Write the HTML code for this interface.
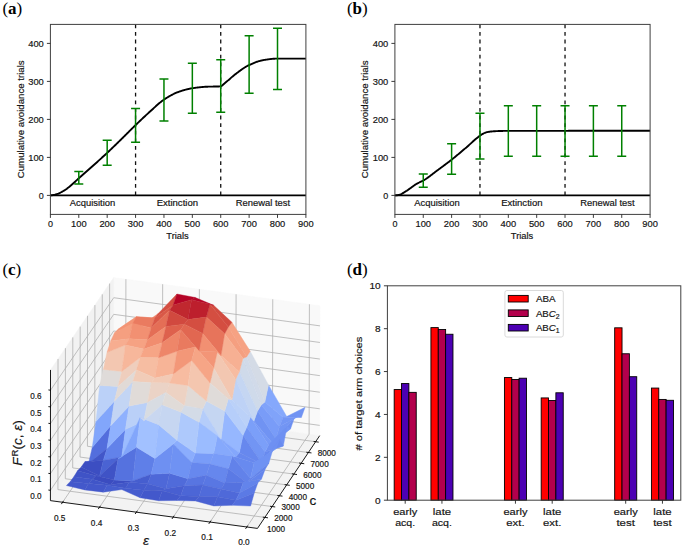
<!DOCTYPE html>
<html><head><meta charset="utf-8"><style>html,body{margin:0;padding:0;background:#fff;}svg{display:block;} text{stroke:#1a1a1a;stroke-width:0.18px;}</style></head>
<body><svg width="685" height="549" viewBox="0 0 685 549" font-family="'Liberation Sans', sans-serif">
<rect width="685" height="549" fill="#fff"/>
<polygon points="319.71,435.65 113.62,407.76 113.77,277.52 320.02,305.73" fill="#f9f9f9" stroke="#f9f9f9" stroke-width="0.5"/>
<polygon points="50.42,500.63 113.62,407.76 113.77,277.52 50.51,369.95" fill="#f2f2f2" stroke="#f2f2f2" stroke-width="0.5"/>
<polygon points="257.47,528.42 50.42,500.63 113.62,407.76 319.71,435.65" fill="#f3f3f3" stroke="#f3f3f3" stroke-width="0.5"/>
<polyline points="246.81,526.99 309.10,434.21 309.40,304.28" stroke="#b0b0b0" stroke-width="0.8" fill="none"/>
<polyline points="210.02,522.05 272.49,429.26 272.76,299.27" stroke="#b0b0b0" stroke-width="0.8" fill="none"/>
<polyline points="173.21,517.11 235.85,424.30 236.09,294.25" stroke="#b0b0b0" stroke-width="0.8" fill="none"/>
<polyline points="136.37,512.17 199.18,419.34 199.39,289.23" stroke="#b0b0b0" stroke-width="0.8" fill="none"/>
<polyline points="99.50,507.22 162.48,414.37 162.66,284.21" stroke="#b0b0b0" stroke-width="0.8" fill="none"/>
<polyline points="62.60,502.26 125.75,409.40 125.90,279.18" stroke="#b0b0b0" stroke-width="0.8" fill="none"/>
<polyline points="264.86,517.40 57.93,489.60 58.03,358.97" stroke="#b0b0b0" stroke-width="0.8" fill="none"/>
<polyline points="272.14,506.56 65.32,478.74 65.42,348.17" stroke="#b0b0b0" stroke-width="0.8" fill="none"/>
<polyline points="279.40,495.73 72.69,467.90 72.80,337.38" stroke="#b0b0b0" stroke-width="0.8" fill="none"/>
<polyline points="286.66,484.91 80.07,457.07 80.18,326.60" stroke="#b0b0b0" stroke-width="0.8" fill="none"/>
<polyline points="293.91,474.10 87.43,446.25 87.55,315.83" stroke="#b0b0b0" stroke-width="0.8" fill="none"/>
<polyline points="301.16,463.30 94.79,435.44 94.92,305.07" stroke="#b0b0b0" stroke-width="0.8" fill="none"/>
<polyline points="308.40,452.51 102.14,424.64 102.27,294.32" stroke="#b0b0b0" stroke-width="0.8" fill="none"/>
<polyline points="315.63,441.73 109.48,413.84 109.62,283.57" stroke="#b0b0b0" stroke-width="0.8" fill="none"/>
<polyline points="319.74,425.38 113.64,397.47 50.43,490.30" stroke="#b0b0b0" stroke-width="0.8" fill="none"/>
<polyline points="319.78,408.81 113.65,380.85 50.44,473.63" stroke="#b0b0b0" stroke-width="0.8" fill="none"/>
<polyline points="319.82,392.23 113.67,364.23 50.45,456.95" stroke="#b0b0b0" stroke-width="0.8" fill="none"/>
<polyline points="319.85,375.64 113.69,347.60 50.46,440.27" stroke="#b0b0b0" stroke-width="0.8" fill="none"/>
<polyline points="319.89,359.06 113.71,330.98 50.47,423.59" stroke="#b0b0b0" stroke-width="0.8" fill="none"/>
<polyline points="319.93,342.47 113.73,314.35 50.49,406.90" stroke="#b0b0b0" stroke-width="0.8" fill="none"/>
<polyline points="319.97,325.87 113.74,297.71 50.50,390.21" stroke="#b0b0b0" stroke-width="0.8" fill="none"/>
<polygon points="301.47,417.27 283.15,417.15 286.76,416.51 305.10,407.31" fill="#7093f3" stroke="#7093f3" stroke-width="0.4" stroke-linejoin="round"/>
<polygon points="283.15,417.15 264.85,402.00 268.50,384.93 286.76,416.51" fill="#85a8fc" stroke="#85a8fc" stroke-width="0.4" stroke-linejoin="round"/>
<polygon points="279.51,426.53 261.22,404.88 264.85,402.00 283.15,417.15" fill="#80a3fa" stroke="#80a3fa" stroke-width="0.4" stroke-linejoin="round"/>
<polygon points="297.86,416.55 279.51,426.53 283.15,417.15 301.47,417.27" fill="#7396f5" stroke="#7396f5" stroke-width="0.4" stroke-linejoin="round"/>
<polygon points="275.87,439.03 257.59,411.11 261.22,404.88 279.51,426.53" fill="#799cf8" stroke="#799cf8" stroke-width="0.4" stroke-linejoin="round"/>
<polygon points="294.24,418.14 275.87,439.03 279.51,426.53 297.86,416.55" fill="#7295f4" stroke="#7295f4" stroke-width="0.4" stroke-linejoin="round"/>
<polygon points="272.24,443.03 253.94,421.06 257.59,411.11 275.87,439.03" fill="#7093f3" stroke="#7093f3" stroke-width="0.4" stroke-linejoin="round"/>
<polygon points="136.45,316.70 118.05,329.29 121.71,330.15 140.10,326.61" fill="#f7a688" stroke="#f7a688" stroke-width="0.4" stroke-linejoin="round"/>
<polygon points="106.98,448.59 88.54,463.31 92.23,447.50 110.67,425.86" fill="#536edd" stroke="#536edd" stroke-width="0.4" stroke-linejoin="round"/>
<polygon points="264.85,402.00 246.60,356.96 250.23,351.25 268.50,384.93" fill="#d4dbe6" stroke="#d4dbe6" stroke-width="0.4" stroke-linejoin="round"/>
<polygon points="290.61,428.80 272.24,443.03 275.87,439.03 294.24,418.14" fill="#6c8ff1" stroke="#6c8ff1" stroke-width="0.4" stroke-linejoin="round"/>
<polygon points="103.29,460.38 84.86,461.74 88.54,463.31 106.98,448.59" fill="#4257c9" stroke="#4257c9" stroke-width="0.4" stroke-linejoin="round"/>
<polygon points="110.67,425.86 92.23,447.50 95.93,421.51 114.37,401.18" fill="#82a6fb" stroke="#82a6fb" stroke-width="0.4" stroke-linejoin="round"/>
<polygon points="261.22,404.88 242.97,358.32 246.60,356.96 264.85,402.00" fill="#d1dae9" stroke="#d1dae9" stroke-width="0.4" stroke-linejoin="round"/>
<polygon points="268.62,445.06 250.33,417.02 253.94,421.06 272.24,443.03" fill="#779af7" stroke="#779af7" stroke-width="0.4" stroke-linejoin="round"/>
<polygon points="99.60,476.09 81.18,467.03 84.86,461.74 103.29,460.38" fill="#3c4ec2" stroke="#3c4ec2" stroke-width="0.4" stroke-linejoin="round"/>
<polygon points="287.00,426.46 268.62,445.06 272.24,443.03 290.61,428.80" fill="#7295f4" stroke="#7295f4" stroke-width="0.4" stroke-linejoin="round"/>
<polygon points="154.84,318.09 136.45,316.70 140.10,326.61 158.50,313.26" fill="#ee8468" stroke="#ee8468" stroke-width="0.4" stroke-linejoin="round"/>
<polygon points="132.78,323.46 114.38,333.04 118.05,329.29 136.45,316.70" fill="#f39475" stroke="#f39475" stroke-width="0.4" stroke-linejoin="round"/>
<polygon points="114.37,401.18 95.93,421.51 99.64,385.40 118.05,386.49" fill="#bbd1f8" stroke="#bbd1f8" stroke-width="0.4" stroke-linejoin="round"/>
<polygon points="257.59,411.11 239.31,371.83 242.97,358.32 261.22,404.88" fill="#cfdaea" stroke="#cfdaea" stroke-width="0.4" stroke-linejoin="round"/>
<polygon points="95.92,475.79 77.49,470.87 81.18,467.03 99.60,476.09" fill="#3b4cc0" stroke="#3b4cc0" stroke-width="0.4" stroke-linejoin="round"/>
<polygon points="121.71,456.96 103.29,460.38 106.98,448.59 125.41,429.47" fill="#6282ea" stroke="#6282ea" stroke-width="0.4" stroke-linejoin="round"/>
<polygon points="118.04,458.65 99.60,476.09 103.29,460.38 121.71,456.96" fill="#4a63d3" stroke="#4a63d3" stroke-width="0.4" stroke-linejoin="round"/>
<polygon points="129.10,338.84 110.70,341.04 114.38,333.04 132.78,323.46" fill="#f59f80" stroke="#f59f80" stroke-width="0.4" stroke-linejoin="round"/>
<polygon points="283.34,446.06 264.98,452.07 268.62,445.06 287.00,426.46" fill="#6e90f2" stroke="#6e90f2" stroke-width="0.4" stroke-linejoin="round"/>
<polygon points="264.98,452.07 246.68,427.34 250.33,417.02 268.62,445.06" fill="#7b9ff9" stroke="#7b9ff9" stroke-width="0.4" stroke-linejoin="round"/>
<polygon points="118.05,386.49 99.64,385.40 103.33,369.46 121.74,371.49" fill="#dfdbd9" stroke="#dfdbd9" stroke-width="0.4" stroke-linejoin="round"/>
<polygon points="253.94,421.06 235.67,379.42 239.31,371.83 257.59,411.11" fill="#c5d6f2" stroke="#c5d6f2" stroke-width="0.4" stroke-linejoin="round"/>
<polygon points="151.17,327.93 132.78,323.46 136.45,316.70 154.84,318.09" fill="#ea7b60" stroke="#ea7b60" stroke-width="0.4" stroke-linejoin="round"/>
<polygon points="125.41,429.47 106.98,448.59 110.67,425.86 129.11,406.04" fill="#8fb1fe" stroke="#8fb1fe" stroke-width="0.4" stroke-linejoin="round"/>
<polygon points="121.74,371.49 103.33,369.46 107.02,352.35 125.43,345.04" fill="#f3c7b1" stroke="#f3c7b1" stroke-width="0.4" stroke-linejoin="round"/>
<polygon points="125.43,345.04 107.02,352.35 110.70,341.04 129.10,338.84" fill="#f7ad90" stroke="#f7ad90" stroke-width="0.4" stroke-linejoin="round"/>
<polygon points="114.35,480.12 95.92,475.79 99.60,476.09 118.04,458.65" fill="#3f53c6" stroke="#3f53c6" stroke-width="0.4" stroke-linejoin="round"/>
<polygon points="246.60,356.96 228.30,327.00 231.94,322.37 250.23,351.25" fill="#f6a283" stroke="#f6a283" stroke-width="0.4" stroke-linejoin="round"/>
<polygon points="261.34,462.61 243.03,435.31 246.68,427.34 264.98,452.07" fill="#7295f4" stroke="#7295f4" stroke-width="0.4" stroke-linejoin="round"/>
<polygon points="279.74,439.40 261.34,462.61 264.98,452.07 283.34,446.06" fill="#688aef" stroke="#688aef" stroke-width="0.4" stroke-linejoin="round"/>
<polygon points="147.50,339.81 129.10,338.84 132.78,323.46 151.17,327.93" fill="#f29072" stroke="#f29072" stroke-width="0.4" stroke-linejoin="round"/>
<polygon points="250.33,417.02 232.00,399.63 235.67,379.42 253.94,421.06" fill="#bed2f6" stroke="#bed2f6" stroke-width="0.4" stroke-linejoin="round"/>
<polygon points="173.24,304.92 154.84,318.09 158.50,313.26 176.90,294.03" fill="#d44e41" stroke="#d44e41" stroke-width="0.4" stroke-linejoin="round"/>
<polygon points="92.24,479.13 73.80,476.86 77.49,470.87 95.92,475.79" fill="#3f53c6" stroke="#3f53c6" stroke-width="0.4" stroke-linejoin="round"/>
<polygon points="257.71,462.20 239.37,452.72 243.03,435.31 261.34,462.61" fill="#6788ee" stroke="#6788ee" stroke-width="0.4" stroke-linejoin="round"/>
<polygon points="110.67,484.72 92.24,479.13 95.92,475.79 114.35,480.12" fill="#3b4cc0" stroke="#3b4cc0" stroke-width="0.4" stroke-linejoin="round"/>
<polygon points="143.83,349.11 125.43,345.04 129.10,338.84 147.50,339.81" fill="#f6a283" stroke="#f6a283" stroke-width="0.4" stroke-linejoin="round"/>
<polygon points="129.11,406.04 110.67,425.86 114.37,401.18 132.80,381.48" fill="#c3d5f4" stroke="#c3d5f4" stroke-width="0.4" stroke-linejoin="round"/>
<polygon points="136.48,369.93 118.05,386.49 121.74,371.49 140.16,357.56" fill="#efcebd" stroke="#efcebd" stroke-width="0.4" stroke-linejoin="round"/>
<polygon points="140.16,357.56 121.74,371.49 125.43,345.04 143.83,349.11" fill="#f7b79b" stroke="#f7b79b" stroke-width="0.4" stroke-linejoin="round"/>
<polygon points="242.97,358.32 224.66,333.75 228.30,327.00 246.60,356.96" fill="#f59f80" stroke="#f59f80" stroke-width="0.4" stroke-linejoin="round"/>
<polygon points="132.80,381.48 114.37,401.18 118.05,386.49 136.48,369.93" fill="#e1dad6" stroke="#e1dad6" stroke-width="0.4" stroke-linejoin="round"/>
<polygon points="169.58,310.28 151.17,327.93 154.84,318.09 173.24,304.92" fill="#d95847" stroke="#d95847" stroke-width="0.4" stroke-linejoin="round"/>
<polygon points="129.10,482.18 110.67,484.72 114.35,480.12 132.77,480.92" fill="#3c4ec2" stroke="#3c4ec2" stroke-width="0.4" stroke-linejoin="round"/>
<polygon points="246.68,427.34 228.37,398.93 232.00,399.63 250.33,417.02" fill="#bbd1f8" stroke="#bbd1f8" stroke-width="0.4" stroke-linejoin="round"/>
<polygon points="132.77,480.92 114.35,480.12 118.04,458.65 136.48,447.19" fill="#5572df" stroke="#5572df" stroke-width="0.4" stroke-linejoin="round"/>
<polygon points="276.10,448.53 257.71,462.20 261.34,462.61 279.74,439.40" fill="#6e90f2" stroke="#6e90f2" stroke-width="0.4" stroke-linejoin="round"/>
<polygon points="88.56,483.57 70.11,481.66 73.80,476.86 92.24,479.13" fill="#4257c9" stroke="#4257c9" stroke-width="0.4" stroke-linejoin="round"/>
<polygon points="239.31,371.83 220.99,355.55 224.66,333.75 242.97,358.32" fill="#f7b093" stroke="#f7b093" stroke-width="0.4" stroke-linejoin="round"/>
<polygon points="165.91,326.52 147.50,339.81 151.17,327.93 169.58,310.28" fill="#e46e56" stroke="#e46e56" stroke-width="0.4" stroke-linejoin="round"/>
<polygon points="254.09,462.65 235.73,456.91 239.37,452.72 257.71,462.20" fill="#6788ee" stroke="#6788ee" stroke-width="0.4" stroke-linejoin="round"/>
<polygon points="140.18,417.47 121.71,456.96 125.41,429.47 143.84,420.81" fill="#9bbcff" stroke="#9bbcff" stroke-width="0.4" stroke-linejoin="round"/>
<polygon points="162.23,342.74 143.83,349.11 147.50,339.81 165.91,326.52" fill="#f18d6f" stroke="#f18d6f" stroke-width="0.4" stroke-linejoin="round"/>
<polygon points="228.30,327.00 209.98,304.35 213.62,305.28 231.94,322.37" fill="#d24b40" stroke="#d24b40" stroke-width="0.4" stroke-linejoin="round"/>
<polygon points="143.84,420.81 125.41,429.47 129.11,406.04 147.52,402.46" fill="#bad0f8" stroke="#bad0f8" stroke-width="0.4" stroke-linejoin="round"/>
<polygon points="136.48,447.19 118.04,458.65 121.71,456.96 140.18,417.47" fill="#82a6fb" stroke="#82a6fb" stroke-width="0.4" stroke-linejoin="round"/>
<polygon points="239.37,452.72 221.03,439.16 224.71,410.89 243.03,435.31" fill="#96b7ff" stroke="#96b7ff" stroke-width="0.4" stroke-linejoin="round"/>
<polygon points="107.00,485.21 88.56,483.57 92.24,479.13 110.67,484.72" fill="#4055c8" stroke="#4055c8" stroke-width="0.4" stroke-linejoin="round"/>
<polygon points="191.62,299.65 173.24,304.92 176.90,294.03 195.27,297.51" fill="#b40426" stroke="#b40426" stroke-width="0.4" stroke-linejoin="round"/>
<polygon points="243.03,435.31 224.71,410.89 228.37,398.93 246.68,427.34" fill="#b6cefa" stroke="#b6cefa" stroke-width="0.4" stroke-linejoin="round"/>
<polygon points="151.20,474.27 132.77,480.92 136.48,447.19 154.88,458.43" fill="#5f7fe8" stroke="#5f7fe8" stroke-width="0.4" stroke-linejoin="round"/>
<polygon points="158.56,357.74 140.16,357.56 143.83,349.11 162.23,342.74" fill="#f6a586" stroke="#f6a586" stroke-width="0.4" stroke-linejoin="round"/>
<polygon points="147.52,483.77 129.10,482.18 132.77,480.92 151.20,474.27" fill="#465ecf" stroke="#465ecf" stroke-width="0.4" stroke-linejoin="round"/>
<polygon points="235.67,379.42 217.36,351.91 220.99,355.55 239.31,371.83" fill="#f7bca1" stroke="#f7bca1" stroke-width="0.4" stroke-linejoin="round"/>
<polygon points="154.87,378.06 136.48,369.93 140.16,357.56 158.56,357.74" fill="#f6bda2" stroke="#f6bda2" stroke-width="0.4" stroke-linejoin="round"/>
<polygon points="235.73,456.91 217.39,435.76 221.03,439.16 239.37,452.72" fill="#84a7fc" stroke="#84a7fc" stroke-width="0.4" stroke-linejoin="round"/>
<polygon points="209.98,304.35 191.62,299.65 195.27,297.51 213.62,305.28" fill="#b40426" stroke="#b40426" stroke-width="0.4" stroke-linejoin="round"/>
<polygon points="125.43,488.22 107.00,485.21 110.67,484.72 129.10,482.18" fill="#4257c9" stroke="#4257c9" stroke-width="0.4" stroke-linejoin="round"/>
<polygon points="151.21,382.76 132.80,381.48 136.48,369.93 154.87,378.06" fill="#f1ccb8" stroke="#f1ccb8" stroke-width="0.4" stroke-linejoin="round"/>
<polygon points="147.52,402.46 129.11,406.04 132.80,381.48 151.21,382.76" fill="#e0dbd8" stroke="#e0dbd8" stroke-width="0.4" stroke-linejoin="round"/>
<polygon points="84.87,489.91 66.42,485.56 70.11,481.66 88.56,483.57" fill="#4358cb" stroke="#4358cb" stroke-width="0.4" stroke-linejoin="round"/>
<polygon points="187.95,319.60 169.58,310.28 173.24,304.92 191.62,299.65" fill="#c0282f" stroke="#c0282f" stroke-width="0.4" stroke-linejoin="round"/>
<polygon points="232.00,399.63 213.69,368.08 217.36,351.91 235.67,379.42" fill="#f3c7b1" stroke="#f3c7b1" stroke-width="0.4" stroke-linejoin="round"/>
<polygon points="272.47,451.02 254.09,462.65 257.71,462.20 276.10,448.53" fill="#7699f6" stroke="#7699f6" stroke-width="0.4" stroke-linejoin="round"/>
<polygon points="250.43,478.61 232.10,456.29 235.73,456.91 254.09,462.65" fill="#688aef" stroke="#688aef" stroke-width="0.4" stroke-linejoin="round"/>
<polygon points="224.66,333.75 206.32,317.12 209.98,304.35 228.30,327.00" fill="#d44e41" stroke="#d44e41" stroke-width="0.4" stroke-linejoin="round"/>
<polygon points="165.93,488.73 147.52,483.77 151.20,474.27 169.61,473.16" fill="#4e68d8" stroke="#4e68d8" stroke-width="0.4" stroke-linejoin="round"/>
<polygon points="220.99,355.55 202.66,333.43 206.32,317.12 224.66,333.75" fill="#e7745b" stroke="#e7745b" stroke-width="0.4" stroke-linejoin="round"/>
<polygon points="228.37,398.93 210.03,382.92 213.69,368.08 232.00,399.63" fill="#ead4c8" stroke="#ead4c8" stroke-width="0.4" stroke-linejoin="round"/>
<polygon points="184.29,324.15 165.91,326.52 169.58,310.28 187.95,319.60" fill="#d1493f" stroke="#d1493f" stroke-width="0.4" stroke-linejoin="round"/>
<polygon points="173.27,373.98 154.87,378.06 158.56,357.74 176.96,351.26" fill="#f7b497" stroke="#f7b497" stroke-width="0.4" stroke-linejoin="round"/>
<polygon points="103.31,492.13 84.87,489.91 88.56,483.57 107.00,485.21" fill="#4358cb" stroke="#4358cb" stroke-width="0.4" stroke-linejoin="round"/>
<polygon points="143.85,490.23 125.43,488.22 129.10,482.18 147.52,483.77" fill="#455cce" stroke="#455cce" stroke-width="0.4" stroke-linejoin="round"/>
<polygon points="169.61,473.16 151.20,474.27 154.88,458.43 173.30,444.00" fill="#6e90f2" stroke="#6e90f2" stroke-width="0.4" stroke-linejoin="round"/>
<polygon points="217.36,351.91 198.98,351.07 202.66,333.43 220.99,355.55" fill="#f29072" stroke="#f29072" stroke-width="0.4" stroke-linejoin="round"/>
<polygon points="169.61,383.06 151.21,382.76 154.87,378.06 173.27,373.98" fill="#f2cab5" stroke="#f2cab5" stroke-width="0.4" stroke-linejoin="round"/>
<polygon points="206.32,317.12 187.95,319.60 191.62,299.65 209.98,304.35" fill="#bd1f2d" stroke="#bd1f2d" stroke-width="0.4" stroke-linejoin="round"/>
<polygon points="221.03,439.16 202.70,408.88 206.35,401.03 224.71,410.89" fill="#c5d6f2" stroke="#c5d6f2" stroke-width="0.4" stroke-linejoin="round"/>
<polygon points="224.71,410.89 206.35,401.03 210.03,382.92 228.37,398.93" fill="#dfdbd9" stroke="#dfdbd9" stroke-width="0.4" stroke-linejoin="round"/>
<polygon points="202.66,333.43 184.29,324.15 187.95,319.60 206.32,317.12" fill="#d44e41" stroke="#d44e41" stroke-width="0.4" stroke-linejoin="round"/>
<polygon points="232.10,456.29 213.72,453.62 217.39,435.76 235.73,456.91" fill="#86a9fc" stroke="#86a9fc" stroke-width="0.4" stroke-linejoin="round"/>
<polygon points="210.06,464.00 191.67,462.53 195.34,453.06 213.72,453.62" fill="#799cf8" stroke="#799cf8" stroke-width="0.4" stroke-linejoin="round"/>
<polygon points="184.34,485.83 165.93,488.73 169.61,473.16 188.00,478.77" fill="#506bda" stroke="#506bda" stroke-width="0.4" stroke-linejoin="round"/>
<polygon points="180.64,329.67 162.23,342.74 165.91,326.52 184.29,324.15" fill="#de614d" stroke="#de614d" stroke-width="0.4" stroke-linejoin="round"/>
<polygon points="268.82,463.20 250.43,478.61 254.09,462.65 272.47,451.02" fill="#6f92f3" stroke="#6f92f3" stroke-width="0.4" stroke-linejoin="round"/>
<polygon points="154.88,458.43 136.48,447.19 140.18,417.47 158.58,424.65" fill="#a2c1ff" stroke="#a2c1ff" stroke-width="0.4" stroke-linejoin="round"/>
<polygon points="246.79,482.68 228.44,468.76 232.10,456.29 250.43,478.61" fill="#6282ea" stroke="#6282ea" stroke-width="0.4" stroke-linejoin="round"/>
<polygon points="176.96,351.26 158.56,357.74 162.23,342.74 180.64,329.67" fill="#ee8669" stroke="#ee8669" stroke-width="0.4" stroke-linejoin="round"/>
<polygon points="191.67,462.53 173.30,444.00 176.96,440.35 195.34,453.06" fill="#8badfd" stroke="#8badfd" stroke-width="0.4" stroke-linejoin="round"/>
<polygon points="217.39,435.76 199.03,422.32 202.70,408.88 221.03,439.16" fill="#b5cdfa" stroke="#b5cdfa" stroke-width="0.4" stroke-linejoin="round"/>
<polygon points="162.27,490.79 143.85,490.23 147.52,483.77 165.93,488.73" fill="#465ecf" stroke="#465ecf" stroke-width="0.4" stroke-linejoin="round"/>
<polygon points="165.94,392.48 147.52,402.46 151.21,382.76 169.61,383.06" fill="#ebd3c6" stroke="#ebd3c6" stroke-width="0.4" stroke-linejoin="round"/>
<polygon points="162.27,404.86 143.84,420.81 147.52,402.46 165.94,392.48" fill="#d8dce2" stroke="#d8dce2" stroke-width="0.4" stroke-linejoin="round"/>
<polygon points="188.00,478.77 169.61,473.16 173.30,444.00 191.67,462.53" fill="#6f92f3" stroke="#6f92f3" stroke-width="0.4" stroke-linejoin="round"/>
<polygon points="213.72,453.62 195.34,453.06 199.03,422.32 217.39,435.76" fill="#9bbcff" stroke="#9bbcff" stroke-width="0.4" stroke-linejoin="round"/>
<polygon points="121.75,489.56 103.31,492.13 107.00,485.21 125.43,488.22" fill="#465ecf" stroke="#465ecf" stroke-width="0.4" stroke-linejoin="round"/>
<polygon points="173.30,444.00 154.88,458.43 158.58,424.65 176.96,440.35" fill="#9abbff" stroke="#9abbff" stroke-width="0.4" stroke-linejoin="round"/>
<polygon points="206.40,475.27 188.00,478.77 191.67,462.53 210.06,464.00" fill="#6788ee" stroke="#6788ee" stroke-width="0.4" stroke-linejoin="round"/>
<polygon points="198.98,351.07 180.64,329.67 184.29,324.15 202.66,333.43" fill="#e16751" stroke="#e16751" stroke-width="0.4" stroke-linejoin="round"/>
<polygon points="195.34,453.06 176.96,440.35 180.66,411.93 199.03,422.32" fill="#aec9fc" stroke="#aec9fc" stroke-width="0.4" stroke-linejoin="round"/>
<polygon points="228.44,468.76 210.06,464.00 213.72,453.62 232.10,456.29" fill="#799cf8" stroke="#799cf8" stroke-width="0.4" stroke-linejoin="round"/>
<polygon points="158.58,424.65 140.18,417.47 143.84,420.81 162.27,404.86" fill="#c9d7f0" stroke="#c9d7f0" stroke-width="0.4" stroke-linejoin="round"/>
<polygon points="202.70,408.88 184.32,405.75 187.99,385.40 206.35,401.03" fill="#e1dad6" stroke="#e1dad6" stroke-width="0.4" stroke-linejoin="round"/>
<polygon points="213.69,368.08 195.35,347.06 198.98,351.07 217.36,351.91" fill="#f39577" stroke="#f39577" stroke-width="0.4" stroke-linejoin="round"/>
<polygon points="265.19,469.20 246.79,482.68 250.43,478.61 268.82,463.20" fill="#6384eb" stroke="#6384eb" stroke-width="0.4" stroke-linejoin="round"/>
<polygon points="180.67,495.86 162.27,490.79 165.93,488.73 184.34,485.83" fill="#485fd1" stroke="#485fd1" stroke-width="0.4" stroke-linejoin="round"/>
<polygon points="140.17,497.74 121.75,489.56 125.43,488.22 143.85,490.23" fill="#455cce" stroke="#455cce" stroke-width="0.4" stroke-linejoin="round"/>
<polygon points="184.32,405.75 165.94,392.48 169.61,383.06 187.99,385.40" fill="#edd2c3" stroke="#edd2c3" stroke-width="0.4" stroke-linejoin="round"/>
<polygon points="202.74,485.07 184.34,485.83 188.00,478.77 206.40,475.27" fill="#5875e1" stroke="#5875e1" stroke-width="0.4" stroke-linejoin="round"/>
<polygon points="224.78,482.97 206.40,475.27 210.06,464.00 228.44,468.76" fill="#6687ed" stroke="#6687ed" stroke-width="0.4" stroke-linejoin="round"/>
<polygon points="187.99,385.40 169.61,383.06 173.27,373.98 191.68,360.51" fill="#f7bca1" stroke="#f7bca1" stroke-width="0.4" stroke-linejoin="round"/>
<polygon points="206.35,401.03 187.99,385.40 191.68,360.51 210.03,382.92" fill="#f4c6af" stroke="#f4c6af" stroke-width="0.4" stroke-linejoin="round"/>
<polygon points="243.16,482.52 224.78,482.97 228.44,468.76 246.79,482.68" fill="#5b7ae5" stroke="#5b7ae5" stroke-width="0.4" stroke-linejoin="round"/>
<polygon points="195.35,347.06 176.96,351.26 180.64,329.67 198.98,351.07" fill="#e97a5f" stroke="#e97a5f" stroke-width="0.4" stroke-linejoin="round"/>
<polygon points="176.96,440.35 158.58,424.65 162.27,404.86 180.66,411.93" fill="#c6d6f1" stroke="#c6d6f1" stroke-width="0.4" stroke-linejoin="round"/>
<polygon points="199.03,422.32 180.66,411.93 184.32,405.75 202.70,408.88" fill="#d3dbe7" stroke="#d3dbe7" stroke-width="0.4" stroke-linejoin="round"/>
<polygon points="191.68,360.51 173.27,373.98 176.96,351.26 195.35,347.06" fill="#f39778" stroke="#f39778" stroke-width="0.4" stroke-linejoin="round"/>
<polygon points="180.66,411.93 162.27,404.86 165.94,392.48 184.32,405.75" fill="#e0dbd8" stroke="#e0dbd8" stroke-width="0.4" stroke-linejoin="round"/>
<polygon points="158.59,500.73 140.17,497.74 143.85,490.23 162.27,490.79" fill="#4358cb" stroke="#4358cb" stroke-width="0.4" stroke-linejoin="round"/>
<polygon points="210.03,382.92 191.68,360.51 195.35,347.06 213.69,368.08" fill="#f6a586" stroke="#f6a586" stroke-width="0.4" stroke-linejoin="round"/>
<polygon points="221.13,488.88 202.74,485.07 206.40,475.27 224.78,482.97" fill="#5977e3" stroke="#5977e3" stroke-width="0.4" stroke-linejoin="round"/>
<polygon points="199.07,496.40 180.67,495.86 184.34,485.83 202.74,485.07" fill="#4c66d6" stroke="#4c66d6" stroke-width="0.4" stroke-linejoin="round"/>
<polygon points="177.01,500.51 158.59,500.73 162.27,490.79 180.67,495.86" fill="#445acc" stroke="#445acc" stroke-width="0.4" stroke-linejoin="round"/>
<polygon points="239.50,493.09 221.13,488.88 224.78,482.97 243.16,482.52" fill="#5572df" stroke="#5572df" stroke-width="0.4" stroke-linejoin="round"/>
<polygon points="261.54,478.92 243.16,482.52 246.79,482.68 265.19,469.20" fill="#6485ec" stroke="#6485ec" stroke-width="0.4" stroke-linejoin="round"/>
<polygon points="217.47,496.63 199.07,496.40 202.74,485.07 221.13,488.88" fill="#506bda" stroke="#506bda" stroke-width="0.4" stroke-linejoin="round"/>
<polygon points="195.42,500.95 177.01,500.51 180.67,495.86 199.07,496.40" fill="#465ecf" stroke="#465ecf" stroke-width="0.4" stroke-linejoin="round"/>
<polygon points="235.86,500.27 217.47,496.63 221.13,488.88 239.50,493.09" fill="#4f69d9" stroke="#4f69d9" stroke-width="0.4" stroke-linejoin="round"/>
<polygon points="257.90,482.84 239.50,493.09 243.16,482.52 261.54,478.92" fill="#6384eb" stroke="#6384eb" stroke-width="0.4" stroke-linejoin="round"/>
<polygon points="213.81,505.97 195.42,500.95 199.07,496.40 217.47,496.63" fill="#4961d2" stroke="#4961d2" stroke-width="0.4" stroke-linejoin="round"/>
<polygon points="232.21,505.31 213.81,505.97 217.47,496.63 235.86,500.27" fill="#4a63d3" stroke="#4a63d3" stroke-width="0.4" stroke-linejoin="round"/>
<polygon points="254.25,492.98 235.86,500.27 239.50,493.09 257.90,482.84" fill="#5b7ae5" stroke="#5b7ae5" stroke-width="0.4" stroke-linejoin="round"/>
<polygon points="250.60,506.03 232.21,505.31 235.86,500.27 254.25,492.98" fill="#536edd" stroke="#536edd" stroke-width="0.4" stroke-linejoin="round"/>
<line x1="50.42" y1="500.63" x2="257.47" y2="528.42" stroke="#000" stroke-width="0.9" fill="none"/>
<line x1="257.47" y1="528.42" x2="319.71" y2="435.65" stroke="#000" stroke-width="0.9" fill="none"/>
<line x1="50.42" y1="500.63" x2="50.51" y2="369.95" stroke="#000" stroke-width="0.9" fill="none"/>
<line x1="245.56" y1="528.85" x2="247.74" y2="525.59" stroke="#000" stroke-width="0.9" fill="none"/>
<text x="243.91" y="545.39" text-anchor="middle" textLength="11.5" lengthAdjust="spacingAndGlyphs" fill="#111" font-size="8.4">0.0</text>
<line x1="208.77" y1="523.92" x2="210.97" y2="520.65" stroke="#000" stroke-width="0.9" fill="none"/>
<text x="207.12" y="540.45" text-anchor="middle" textLength="11.5" lengthAdjust="spacingAndGlyphs" fill="#111" font-size="8.4">0.1</text>
<line x1="171.96" y1="518.97" x2="174.16" y2="515.71" stroke="#000" stroke-width="0.9" fill="none"/>
<text x="170.31" y="535.51" text-anchor="middle" textLength="11.5" lengthAdjust="spacingAndGlyphs" fill="#111" font-size="8.4">0.2</text>
<line x1="135.11" y1="514.03" x2="137.32" y2="510.77" stroke="#000" stroke-width="0.9" fill="none"/>
<text x="133.47" y="530.57" text-anchor="middle" textLength="11.5" lengthAdjust="spacingAndGlyphs" fill="#111" font-size="8.4">0.3</text>
<line x1="98.24" y1="509.08" x2="100.45" y2="505.82" stroke="#000" stroke-width="0.9" fill="none"/>
<text x="96.60" y="525.62" text-anchor="middle" textLength="11.5" lengthAdjust="spacingAndGlyphs" fill="#111" font-size="8.4">0.4</text>
<line x1="61.33" y1="504.13" x2="63.55" y2="500.87" stroke="#000" stroke-width="0.9" fill="none"/>
<text x="59.70" y="520.66" text-anchor="middle" textLength="11.5" lengthAdjust="spacingAndGlyphs" fill="#111" font-size="8.4">0.5</text>
<line x1="267.96" y1="517.81" x2="262.80" y2="517.12" stroke="#000" stroke-width="0.9" fill="none"/>
<text x="276.06" y="532.00" text-anchor="middle" textLength="18.2" lengthAdjust="spacingAndGlyphs" fill="#111" font-size="8.4">1000</text>
<line x1="275.23" y1="506.97" x2="270.07" y2="506.28" stroke="#000" stroke-width="0.9" fill="none"/>
<text x="283.34" y="521.16" text-anchor="middle" textLength="18.2" lengthAdjust="spacingAndGlyphs" fill="#111" font-size="8.4">2000</text>
<line x1="282.49" y1="496.14" x2="277.34" y2="495.45" stroke="#000" stroke-width="0.9" fill="none"/>
<text x="290.60" y="510.33" text-anchor="middle" textLength="18.2" lengthAdjust="spacingAndGlyphs" fill="#111" font-size="8.4">3000</text>
<line x1="289.75" y1="485.32" x2="284.60" y2="484.63" stroke="#000" stroke-width="0.9" fill="none"/>
<text x="297.86" y="499.51" text-anchor="middle" textLength="18.2" lengthAdjust="spacingAndGlyphs" fill="#111" font-size="8.4">4000</text>
<line x1="297.00" y1="474.52" x2="291.85" y2="473.82" stroke="#000" stroke-width="0.9" fill="none"/>
<text x="305.11" y="488.70" text-anchor="middle" textLength="18.2" lengthAdjust="spacingAndGlyphs" fill="#111" font-size="8.4">5000</text>
<line x1="304.25" y1="463.72" x2="299.10" y2="463.02" stroke="#000" stroke-width="0.9" fill="none"/>
<text x="312.36" y="477.90" text-anchor="middle" textLength="18.2" lengthAdjust="spacingAndGlyphs" fill="#111" font-size="8.4">6000</text>
<line x1="311.49" y1="452.93" x2="306.34" y2="452.23" stroke="#000" stroke-width="0.9" fill="none"/>
<text x="319.60" y="467.11" text-anchor="middle" textLength="18.2" lengthAdjust="spacingAndGlyphs" fill="#111" font-size="8.4">7000</text>
<line x1="318.72" y1="442.15" x2="313.58" y2="441.45" stroke="#000" stroke-width="0.9" fill="none"/>
<text x="326.83" y="456.33" text-anchor="middle" textLength="18.2" lengthAdjust="spacingAndGlyphs" fill="#111" font-size="8.4">8000</text>
<line x1="48.35" y1="490.02" x2="50.43" y2="490.30" stroke="#000" stroke-width="0.9" fill="none"/>
<text x="35.80" y="498.90" text-anchor="middle" textLength="11.3" lengthAdjust="spacingAndGlyphs" fill="#111" font-size="8.4">0.0</text>
<line x1="48.36" y1="473.35" x2="50.44" y2="473.63" stroke="#000" stroke-width="0.9" fill="none"/>
<text x="35.80" y="482.23" text-anchor="middle" textLength="11.3" lengthAdjust="spacingAndGlyphs" fill="#111" font-size="8.4">0.1</text>
<line x1="48.38" y1="456.67" x2="50.45" y2="456.95" stroke="#000" stroke-width="0.9" fill="none"/>
<text x="35.80" y="465.55" text-anchor="middle" textLength="11.3" lengthAdjust="spacingAndGlyphs" fill="#111" font-size="8.4">0.2</text>
<line x1="48.39" y1="439.99" x2="50.46" y2="440.27" stroke="#000" stroke-width="0.9" fill="none"/>
<text x="35.80" y="448.87" text-anchor="middle" textLength="11.3" lengthAdjust="spacingAndGlyphs" fill="#111" font-size="8.4">0.3</text>
<line x1="48.40" y1="423.31" x2="50.47" y2="423.59" stroke="#000" stroke-width="0.9" fill="none"/>
<text x="35.80" y="432.19" text-anchor="middle" textLength="11.3" lengthAdjust="spacingAndGlyphs" fill="#111" font-size="8.4">0.4</text>
<line x1="48.41" y1="406.62" x2="50.49" y2="406.90" stroke="#000" stroke-width="0.9" fill="none"/>
<text x="35.80" y="415.50" text-anchor="middle" textLength="11.3" lengthAdjust="spacingAndGlyphs" fill="#111" font-size="8.4">0.5</text>
<line x1="48.42" y1="389.93" x2="50.50" y2="390.21" stroke="#000" stroke-width="0.9" fill="none"/>
<text x="35.80" y="398.81" text-anchor="middle" textLength="11.3" lengthAdjust="spacingAndGlyphs" fill="#111" font-size="8.4">0.6</text>
<text x="146" y="545.3" font-size="13.6" font-style="italic" text-anchor="middle" fill="#111">ε</text>
<text x="312.8" y="504.8" font-size="13.5" text-anchor="middle" fill="#111">c</text>
<text transform="translate(21.8,443) rotate(-90)" font-size="13.5" text-anchor="middle" fill="#111"><tspan font-style="italic">F</tspan><tspan font-size="9.5" dx="1" dy="-4">R</tspan><tspan dy="4">(</tspan><tspan font-style="italic">c</tspan>, <tspan font-style="italic">ε</tspan>)</text>
<line x1="50.40" y1="195.4" x2="305.90" y2="195.4" stroke="#000" stroke-width="1.6"/>
<line x1="135.57" y1="24.40" x2="135.57" y2="195.40" stroke="#111" stroke-width="1.3" stroke-dasharray="3.8 3.8"/>
<line x1="220.73" y1="24.40" x2="220.73" y2="195.40" stroke="#111" stroke-width="1.3" stroke-dasharray="3.8 3.8"/>
<path d="M50.40,195.40 L50.97,195.36 L51.54,195.30 L52.10,195.22 L52.67,195.14 L53.24,195.04 L53.81,194.94 L54.37,194.83 L54.94,194.69 L55.51,194.53 L56.08,194.36 L56.65,194.18 L57.21,193.98 L57.78,193.78 L58.35,193.56 L58.92,193.32 L59.48,193.07 L60.05,192.80 L60.62,192.52 L61.19,192.23 L61.76,191.93 L62.32,191.61 L62.89,191.29 L63.46,190.96 L64.03,190.62 L64.59,190.27 L65.16,189.91 L65.73,189.53 L66.30,189.13 L66.87,188.71 L67.43,188.27 L68.00,187.83 L68.57,187.37 L69.14,186.90 L69.70,186.43 L70.27,185.95 L70.84,185.48 L71.41,185.00 L71.98,184.52 L72.54,184.03 L73.11,183.53 L73.68,183.02 L74.25,182.50 L74.81,181.98 L75.38,181.45 L75.95,180.92 L76.52,180.39 L77.09,179.86 L77.65,179.33 L78.22,178.81 L78.79,178.30 L79.36,177.79 L79.92,177.28 L80.49,176.78 L81.06,176.27 L81.63,175.77 L82.20,175.27 L82.76,174.77 L83.33,174.27 L83.90,173.77 L84.47,173.27 L85.03,172.77 L85.60,172.28 L86.17,171.78 L86.74,171.28 L87.31,170.78 L87.87,170.28 L88.44,169.79 L89.01,169.29 L89.58,168.79 L90.14,168.29 L90.71,167.78 L91.28,167.28 L91.85,166.77 L92.42,166.27 L92.98,165.76 L93.55,165.25 L94.12,164.74 L94.69,164.23 L95.25,163.72 L95.82,163.21 L96.39,162.70 L96.96,162.19 L97.53,161.68 L98.09,161.17 L98.66,160.66 L99.23,160.14 L99.80,159.63 L100.36,159.11 L100.93,158.60 L101.50,158.08 L102.07,157.56 L102.64,157.04 L103.20,156.52 L103.77,156.00 L104.34,155.48 L104.91,154.95 L105.47,154.43 L106.04,153.90 L106.61,153.37 L107.18,152.84 L107.75,152.31 L108.31,151.77 L108.88,151.24 L109.45,150.70 L110.02,150.16 L110.58,149.62 L111.15,149.08 L111.72,148.53 L112.29,147.99 L112.86,147.44 L113.42,146.90 L113.99,146.35 L114.56,145.80 L115.13,145.25 L115.69,144.70 L116.26,144.14 L116.83,143.59 L117.40,143.04 L117.97,142.49 L118.53,141.93 L119.10,141.38 L119.67,140.82 L120.24,140.27 L120.80,139.71 L121.37,139.16 L121.94,138.60 L122.51,138.05 L123.08,137.49 L123.64,136.92 L124.21,136.36 L124.78,135.80 L125.35,135.23 L125.91,134.66 L126.48,134.09 L127.05,133.53 L127.62,132.96 L128.19,132.39 L128.75,131.82 L129.32,131.25 L129.89,130.69 L130.46,130.12 L131.02,129.55 L131.59,128.99 L132.16,128.43 L132.73,127.87 L133.30,127.31 L133.86,126.75 L134.43,126.20 L135.00,125.65 L135.57,125.10 L136.13,124.55 L136.70,124.01 L137.27,123.46 L137.84,122.92 L138.41,122.37 L138.97,121.83 L139.54,121.29 L140.11,120.75 L140.68,120.21 L141.24,119.67 L141.81,119.13 L142.38,118.60 L142.95,118.06 L143.52,117.53 L144.08,117.00 L144.65,116.47 L145.22,115.94 L145.79,115.42 L146.35,114.89 L146.92,114.37 L147.49,113.85 L148.06,113.34 L148.63,112.82 L149.19,112.31 L149.76,111.80 L150.33,111.29 L150.90,110.77 L151.46,110.25 L152.03,109.73 L152.60,109.21 L153.17,108.68 L153.74,108.16 L154.30,107.63 L154.87,107.11 L155.44,106.59 L156.01,106.07 L156.57,105.56 L157.14,105.05 L157.71,104.54 L158.28,104.05 L158.85,103.56 L159.41,103.08 L159.98,102.61 L160.55,102.15 L161.12,101.70 L161.68,101.26 L162.25,100.83 L162.82,100.42 L163.39,100.02 L163.96,99.64 L164.52,99.27 L165.09,98.90 L165.66,98.53 L166.23,98.17 L166.79,97.81 L167.36,97.46 L167.93,97.11 L168.50,96.77 L169.07,96.44 L169.63,96.10 L170.20,95.78 L170.77,95.46 L171.34,95.15 L171.90,94.84 L172.47,94.55 L173.04,94.26 L173.61,93.98 L174.18,93.70 L174.74,93.44 L175.31,93.18 L175.88,92.93 L176.45,92.69 L177.01,92.47 L177.58,92.25 L178.15,92.04 L178.72,91.84 L179.29,91.64 L179.85,91.45 L180.42,91.25 L180.99,91.07 L181.56,90.88 L182.12,90.70 L182.69,90.52 L183.26,90.35 L183.83,90.18 L184.40,90.02 L184.96,89.86 L185.53,89.70 L186.10,89.55 L186.67,89.40 L187.23,89.26 L187.80,89.13 L188.37,89.00 L188.94,88.87 L189.51,88.75 L190.07,88.64 L190.64,88.53 L191.21,88.43 L191.78,88.33 L192.34,88.24 L192.91,88.15 L193.48,88.07 L194.05,87.99 L194.62,87.90 L195.18,87.82 L195.75,87.74 L196.32,87.67 L196.89,87.59 L197.45,87.52 L198.02,87.45 L198.59,87.38 L199.16,87.32 L199.73,87.25 L200.29,87.19 L200.86,87.13 L201.43,87.08 L202.00,87.03 L202.56,86.98 L203.13,86.93 L203.70,86.89 L204.27,86.85 L204.84,86.81 L205.40,86.78 L205.97,86.75 L206.54,86.72 L207.11,86.70 L207.67,86.68 L208.24,86.66 L208.81,86.64 L209.38,86.63 L209.95,86.62 L210.51,86.61 L211.08,86.60 L211.65,86.59 L212.22,86.59 L212.78,86.58 L213.35,86.57 L213.92,86.56 L214.49,86.56 L215.06,86.55 L215.62,86.54 L216.19,86.52 L216.76,86.51 L217.33,86.49 L217.89,86.48 L218.46,86.46 L219.03,86.43 L219.60,86.40 L220.17,86.37 L220.73,86.34 L221.30,86.18 L221.87,85.82 L222.44,85.32 L223.00,84.76 L223.57,84.19 L224.14,83.68 L224.71,83.22 L225.28,82.76 L225.84,82.29 L226.41,81.82 L226.98,81.35 L227.55,80.88 L228.11,80.40 L228.68,79.91 L229.25,79.42 L229.82,78.92 L230.39,78.41 L230.95,77.91 L231.52,77.41 L232.09,76.91 L232.66,76.42 L233.22,75.93 L233.79,75.46 L234.36,75.00 L234.93,74.56 L235.50,74.13 L236.06,73.69 L236.63,73.26 L237.20,72.83 L237.77,72.40 L238.33,71.97 L238.90,71.54 L239.47,71.12 L240.04,70.70 L240.61,70.28 L241.17,69.87 L241.74,69.47 L242.31,69.07 L242.88,68.68 L243.44,68.30 L244.01,67.93 L244.58,67.56 L245.15,67.21 L245.72,66.87 L246.28,66.53 L246.85,66.21 L247.42,65.90 L247.99,65.61 L248.55,65.33 L249.12,65.06 L249.69,64.80 L250.26,64.54 L250.83,64.29 L251.39,64.04 L251.96,63.79 L252.53,63.54 L253.10,63.30 L253.66,63.07 L254.23,62.83 L254.80,62.61 L255.37,62.39 L255.94,62.17 L256.50,61.96 L257.07,61.76 L257.64,61.57 L258.21,61.38 L258.77,61.21 L259.34,61.04 L259.91,60.87 L260.48,60.72 L261.05,60.58 L261.61,60.45 L262.18,60.33 L262.75,60.22 L263.32,60.12 L263.88,60.03 L264.45,59.93 L265.02,59.84 L265.59,59.75 L266.16,59.66 L266.72,59.58 L267.29,59.49 L267.86,59.41 L268.43,59.33 L268.99,59.25 L269.56,59.18 L270.13,59.10 L270.70,59.04 L271.27,58.97 L271.83,58.91 L272.40,58.86 L272.97,58.81 L273.54,58.76 L274.10,58.72 L274.67,58.68 L275.24,58.65 L275.81,58.63 L276.38,58.61 L276.94,58.60 L277.51,58.60 L278.08,58.60 L278.65,58.60 L279.21,58.60 L279.78,58.60 L280.35,58.60 L280.92,58.60 L281.49,58.60 L282.05,58.60 L282.62,58.60 L283.19,58.60 L283.76,58.60 L284.32,58.60 L284.89,58.60 L285.46,58.60 L286.03,58.60 L286.60,58.60 L287.16,58.60 L287.73,58.60 L288.30,58.60 L288.87,58.60 L289.43,58.60 L290.00,58.60 L290.57,58.60 L291.14,58.60 L291.71,58.60 L292.27,58.60 L292.84,58.60 L293.41,58.60 L293.98,58.60 L294.54,58.60 L295.11,58.60 L295.68,58.60 L296.25,58.60 L296.82,58.60 L297.38,58.60 L297.95,58.60 L298.52,58.60 L299.09,58.60 L299.65,58.60 L300.22,58.60 L300.79,58.60 L301.36,58.60 L301.93,58.60 L302.49,58.60 L303.06,58.60 L303.63,58.60 L304.20,58.60 L304.76,58.60 L305.33,58.60 L305.90,58.60" fill="none" stroke="#000" stroke-width="1.9" stroke-linejoin="round"/>
<path d="M78.79,184.00 L78.79,171.46 M74.29,184.00 L83.29,184.00 M74.29,171.46 L83.29,171.46" stroke="#008000" stroke-width="1.5" fill="none"/>
<path d="M107.18,165.19 L107.18,140.30 M102.68,165.19 L111.68,165.19 M102.68,140.30 L111.68,140.30" stroke="#008000" stroke-width="1.5" fill="none"/>
<path d="M135.57,142.31 L135.57,108.49 M131.07,142.31 L140.07,142.31 M131.07,108.49 L140.07,108.49" stroke="#008000" stroke-width="1.5" fill="none"/>
<path d="M163.96,120.92 L163.96,79.12 M159.46,120.92 L168.46,120.92 M159.46,79.12 L168.46,79.12" stroke="#008000" stroke-width="1.5" fill="none"/>
<path d="M192.34,113.32 L192.34,63.16 M187.84,113.32 L196.84,113.32 M187.84,63.16 L196.84,63.16" stroke="#008000" stroke-width="1.5" fill="none"/>
<path d="M220.73,112.18 L220.73,59.74 M216.23,112.18 L225.23,112.18 M216.23,59.74 L225.23,59.74" stroke="#008000" stroke-width="1.5" fill="none"/>
<path d="M249.12,93.29 L249.12,35.80 M244.62,93.29 L253.62,93.29 M244.62,35.80 L253.62,35.80" stroke="#008000" stroke-width="1.5" fill="none"/>
<path d="M277.51,89.38 L277.51,28.20 M273.01,89.38 L282.01,89.38 M273.01,28.20 L282.01,28.20" stroke="#008000" stroke-width="1.5" fill="none"/>
<rect x="50.40" y="24.40" width="255.50" height="190.00" fill="none" stroke="#404040" stroke-width="1"/>
<line x1="50.40" y1="214.40" x2="50.40" y2="217.90" stroke="#262626" stroke-width="0.9"/>
<text x="50.40" y="227.10" font-size="9.5" text-anchor="middle" textLength="5.0" lengthAdjust="spacingAndGlyphs" fill="#111">0</text>
<line x1="78.79" y1="214.40" x2="78.79" y2="217.90" stroke="#262626" stroke-width="0.9"/>
<text x="78.79" y="227.10" font-size="9.5" text-anchor="middle" textLength="15.6" lengthAdjust="spacingAndGlyphs" fill="#111">100</text>
<line x1="107.18" y1="214.40" x2="107.18" y2="217.90" stroke="#262626" stroke-width="0.9"/>
<text x="107.18" y="227.10" font-size="9.5" text-anchor="middle" textLength="15.6" lengthAdjust="spacingAndGlyphs" fill="#111">200</text>
<line x1="135.57" y1="214.40" x2="135.57" y2="217.90" stroke="#262626" stroke-width="0.9"/>
<text x="135.57" y="227.10" font-size="9.5" text-anchor="middle" textLength="15.6" lengthAdjust="spacingAndGlyphs" fill="#111">300</text>
<line x1="163.96" y1="214.40" x2="163.96" y2="217.90" stroke="#262626" stroke-width="0.9"/>
<text x="163.96" y="227.10" font-size="9.5" text-anchor="middle" textLength="15.6" lengthAdjust="spacingAndGlyphs" fill="#111">400</text>
<line x1="192.34" y1="214.40" x2="192.34" y2="217.90" stroke="#262626" stroke-width="0.9"/>
<text x="192.34" y="227.10" font-size="9.5" text-anchor="middle" textLength="15.6" lengthAdjust="spacingAndGlyphs" fill="#111">500</text>
<line x1="220.73" y1="214.40" x2="220.73" y2="217.90" stroke="#262626" stroke-width="0.9"/>
<text x="220.73" y="227.10" font-size="9.5" text-anchor="middle" textLength="15.6" lengthAdjust="spacingAndGlyphs" fill="#111">600</text>
<line x1="249.12" y1="214.40" x2="249.12" y2="217.90" stroke="#262626" stroke-width="0.9"/>
<text x="249.12" y="227.10" font-size="9.5" text-anchor="middle" textLength="15.6" lengthAdjust="spacingAndGlyphs" fill="#111">700</text>
<line x1="277.51" y1="214.40" x2="277.51" y2="217.90" stroke="#262626" stroke-width="0.9"/>
<text x="277.51" y="227.10" font-size="9.5" text-anchor="middle" textLength="15.6" lengthAdjust="spacingAndGlyphs" fill="#111">800</text>
<line x1="305.90" y1="214.40" x2="305.90" y2="217.90" stroke="#262626" stroke-width="0.9"/>
<text x="305.90" y="227.10" font-size="9.5" text-anchor="middle" textLength="15.6" lengthAdjust="spacingAndGlyphs" fill="#111">900</text>
<line x1="46.90" y1="195.40" x2="50.40" y2="195.40" stroke="#262626" stroke-width="0.9"/>
<text x="43.80" y="198.80" font-size="9.5" text-anchor="end" textLength="5.0" lengthAdjust="spacingAndGlyphs" fill="#111">0</text>
<line x1="46.90" y1="157.40" x2="50.40" y2="157.40" stroke="#262626" stroke-width="0.9"/>
<text x="43.80" y="160.80" font-size="9.5" text-anchor="end" textLength="15.6" lengthAdjust="spacingAndGlyphs" fill="#111">100</text>
<line x1="46.90" y1="119.40" x2="50.40" y2="119.40" stroke="#262626" stroke-width="0.9"/>
<text x="43.80" y="122.80" font-size="9.5" text-anchor="end" textLength="15.6" lengthAdjust="spacingAndGlyphs" fill="#111">200</text>
<line x1="46.90" y1="81.40" x2="50.40" y2="81.40" stroke="#262626" stroke-width="0.9"/>
<text x="43.80" y="84.80" font-size="9.5" text-anchor="end" textLength="15.6" lengthAdjust="spacingAndGlyphs" fill="#111">300</text>
<line x1="46.90" y1="43.40" x2="50.40" y2="43.40" stroke="#262626" stroke-width="0.9"/>
<text x="43.80" y="46.80" font-size="9.5" text-anchor="end" textLength="15.6" lengthAdjust="spacingAndGlyphs" fill="#111">400</text>
<text x="92.50" y="206.20" font-size="8.8" text-anchor="middle" textLength="45.4" lengthAdjust="spacingAndGlyphs" fill="#111">Acquisition</text>
<text x="177.35" y="206.20" font-size="8.8" text-anchor="middle" textLength="41.3" lengthAdjust="spacingAndGlyphs" fill="#111">Extinction</text>
<text x="262.95" y="206.20" font-size="8.8" text-anchor="middle" textLength="54.3" lengthAdjust="spacingAndGlyphs" fill="#111">Renewal test</text>
<text x="177.55" y="239.30" font-size="9" text-anchor="middle" textLength="22.5" lengthAdjust="spacingAndGlyphs" fill="#111">Trials</text>
<text x="0" y="0" font-size="9" text-anchor="middle" textLength="117.8" lengthAdjust="spacingAndGlyphs" fill="#111" transform="translate(23.80,119.30) rotate(-90)">Cumulative avoidance trials</text>
<line x1="394.90" y1="195.4" x2="650.10" y2="195.4" stroke="#000" stroke-width="1.6"/>
<line x1="479.97" y1="24.40" x2="479.97" y2="195.40" stroke="#111" stroke-width="1.3" stroke-dasharray="3.8 3.8"/>
<line x1="565.03" y1="24.40" x2="565.03" y2="195.40" stroke="#111" stroke-width="1.3" stroke-dasharray="3.8 3.8"/>
<path d="M394.90,195.40 L395.47,195.39 L396.03,195.35 L396.60,195.28 L397.17,195.20 L397.74,195.11 L398.30,195.00 L398.87,194.89 L399.44,194.77 L400.00,194.60 L400.57,194.38 L401.14,194.13 L401.71,193.84 L402.27,193.52 L402.84,193.18 L403.41,192.83 L403.97,192.47 L404.54,192.10 L405.11,191.74 L405.68,191.39 L406.24,191.05 L406.81,190.70 L407.38,190.33 L407.94,189.95 L408.51,189.55 L409.08,189.15 L409.64,188.74 L410.21,188.32 L410.78,187.90 L411.35,187.48 L411.91,187.06 L412.48,186.64 L413.05,186.23 L413.61,185.82 L414.18,185.42 L414.75,185.03 L415.32,184.66 L415.88,184.29 L416.45,183.95 L417.02,183.62 L417.58,183.31 L418.15,183.02 L418.72,182.75 L419.29,182.49 L419.85,182.23 L420.42,181.98 L420.99,181.72 L421.55,181.46 L422.12,181.18 L422.69,180.89 L423.26,180.58 L423.82,180.25 L424.39,179.91 L424.96,179.56 L425.52,179.19 L426.09,178.82 L426.66,178.43 L427.23,178.04 L427.79,177.64 L428.36,177.23 L428.93,176.81 L429.49,176.39 L430.06,175.96 L430.63,175.53 L431.20,175.10 L431.76,174.66 L432.33,174.22 L432.90,173.78 L433.46,173.34 L434.03,172.90 L434.60,172.47 L435.16,172.03 L435.73,171.60 L436.30,171.17 L436.87,170.74 L437.43,170.32 L438.00,169.90 L438.57,169.49 L439.13,169.07 L439.70,168.65 L440.27,168.23 L440.84,167.82 L441.40,167.40 L441.97,166.98 L442.54,166.56 L443.10,166.14 L443.67,165.72 L444.24,165.30 L444.81,164.88 L445.37,164.46 L445.94,164.03 L446.51,163.61 L447.07,163.18 L447.64,162.75 L448.21,162.32 L448.78,161.88 L449.34,161.45 L449.91,161.01 L450.48,160.57 L451.04,160.13 L451.61,159.68 L452.18,159.23 L452.75,158.78 L453.31,158.33 L453.88,157.87 L454.45,157.41 L455.01,156.95 L455.58,156.48 L456.15,156.02 L456.72,155.55 L457.28,155.08 L457.85,154.61 L458.42,154.13 L458.98,153.66 L459.55,153.18 L460.12,152.70 L460.68,152.23 L461.25,151.75 L461.82,151.27 L462.39,150.79 L462.95,150.31 L463.52,149.83 L464.09,149.34 L464.65,148.86 L465.22,148.38 L465.79,147.90 L466.36,147.42 L466.92,146.92 L467.49,146.43 L468.06,145.92 L468.62,145.42 L469.19,144.91 L469.76,144.39 L470.33,143.88 L470.89,143.36 L471.46,142.85 L472.03,142.33 L472.59,141.82 L473.16,141.31 L473.73,140.80 L474.30,140.30 L474.86,139.80 L475.43,139.31 L476.00,138.83 L476.56,138.35 L477.13,137.89 L477.70,137.43 L478.27,136.98 L478.83,136.54 L479.40,136.12 L479.97,135.70 L480.53,135.29 L481.10,134.88 L481.67,134.50 L482.24,134.15 L482.80,133.84 L483.37,133.55 L483.94,133.27 L484.50,133.01 L485.07,132.76 L485.64,132.54 L486.20,132.35 L486.77,132.19 L487.34,132.07 L487.91,131.97 L488.47,131.87 L489.04,131.78 L489.61,131.70 L490.17,131.62 L490.74,131.55 L491.31,131.48 L491.88,131.43 L492.44,131.38 L493.01,131.33 L493.58,131.29 L494.14,131.26 L494.71,131.23 L495.28,131.20 L495.85,131.17 L496.41,131.14 L496.98,131.11 L497.55,131.09 L498.11,131.06 L498.68,131.04 L499.25,131.02 L499.82,131.00 L500.38,130.98 L500.95,130.96 L501.52,130.95 L502.08,130.94 L502.65,130.93 L503.22,130.92 L503.79,130.92 L504.35,130.91 L504.92,130.91 L505.49,130.91 L506.05,130.91 L506.62,130.91 L507.19,130.91 L507.76,130.91 L508.32,130.91 L508.89,130.90 L509.46,130.90 L510.02,130.90 L510.59,130.90 L511.16,130.90 L511.72,130.90 L512.29,130.90 L512.86,130.90 L513.43,130.90 L513.99,130.89 L514.56,130.89 L515.13,130.89 L515.69,130.89 L516.26,130.89 L516.83,130.89 L517.40,130.89 L517.96,130.89 L518.53,130.89 L519.10,130.89 L519.66,130.88 L520.23,130.88 L520.80,130.88 L521.37,130.88 L521.93,130.88 L522.50,130.88 L523.07,130.88 L523.63,130.88 L524.20,130.88 L524.77,130.88 L525.34,130.88 L525.90,130.87 L526.47,130.87 L527.04,130.87 L527.60,130.87 L528.17,130.87 L528.74,130.87 L529.31,130.87 L529.87,130.87 L530.44,130.87 L531.01,130.87 L531.57,130.87 L532.14,130.86 L532.71,130.86 L533.28,130.86 L533.84,130.86 L534.41,130.86 L534.98,130.86 L535.54,130.86 L536.11,130.86 L536.68,130.86 L537.24,130.86 L537.81,130.86 L538.38,130.86 L538.95,130.86 L539.51,130.85 L540.08,130.85 L540.65,130.85 L541.21,130.85 L541.78,130.85 L542.35,130.85 L542.92,130.85 L543.48,130.85 L544.05,130.85 L544.62,130.85 L545.18,130.85 L545.75,130.85 L546.32,130.85 L546.89,130.85 L547.45,130.84 L548.02,130.84 L548.59,130.84 L549.15,130.84 L549.72,130.84 L550.29,130.84 L550.86,130.84 L551.42,130.84 L551.99,130.84 L552.56,130.84 L553.12,130.84 L553.69,130.84 L554.26,130.84 L554.83,130.84 L555.39,130.84 L555.96,130.84 L556.53,130.84 L557.09,130.83 L557.66,130.83 L558.23,130.83 L558.80,130.83 L559.36,130.83 L559.93,130.83 L560.50,130.83 L561.06,130.83 L561.63,130.83 L562.20,130.83 L562.76,130.83 L563.33,130.83 L563.90,130.83 L564.47,130.83 L565.03,130.83 L565.60,130.83 L566.17,130.83 L566.73,130.83 L567.30,130.83 L567.87,130.83 L568.44,130.82 L569.00,130.82 L569.57,130.82 L570.14,130.82 L570.70,130.82 L571.27,130.82 L571.84,130.82 L572.41,130.82 L572.97,130.82 L573.54,130.82 L574.11,130.82 L574.67,130.82 L575.24,130.82 L575.81,130.82 L576.38,130.82 L576.94,130.82 L577.51,130.82 L578.08,130.82 L578.64,130.82 L579.21,130.82 L579.78,130.82 L580.35,130.82 L580.91,130.82 L581.48,130.82 L582.05,130.82 L582.61,130.82 L583.18,130.81 L583.75,130.81 L584.32,130.81 L584.88,130.81 L585.45,130.81 L586.02,130.81 L586.58,130.81 L587.15,130.81 L587.72,130.81 L588.28,130.81 L588.85,130.81 L589.42,130.81 L589.99,130.81 L590.55,130.81 L591.12,130.81 L591.69,130.81 L592.25,130.81 L592.82,130.81 L593.39,130.81 L593.96,130.81 L594.52,130.81 L595.09,130.81 L595.66,130.81 L596.22,130.81 L596.79,130.81 L597.36,130.81 L597.93,130.81 L598.49,130.81 L599.06,130.81 L599.63,130.81 L600.19,130.81 L600.76,130.81 L601.33,130.81 L601.90,130.81 L602.46,130.81 L603.03,130.81 L603.60,130.81 L604.16,130.81 L604.73,130.81 L605.30,130.81 L605.87,130.81 L606.43,130.81 L607.00,130.81 L607.57,130.80 L608.13,130.80 L608.70,130.80 L609.27,130.80 L609.84,130.80 L610.40,130.80 L610.97,130.80 L611.54,130.80 L612.10,130.80 L612.67,130.80 L613.24,130.80 L613.80,130.80 L614.37,130.80 L614.94,130.80 L615.51,130.80 L616.07,130.80 L616.64,130.80 L617.21,130.80 L617.77,130.80 L618.34,130.80 L618.91,130.80 L619.48,130.80 L620.04,130.80 L620.61,130.80 L621.18,130.80 L621.74,130.80 L622.31,130.80 L622.88,130.80 L623.45,130.80 L624.01,130.80 L624.58,130.80 L625.15,130.80 L625.71,130.80 L626.28,130.80 L626.85,130.80 L627.42,130.80 L627.98,130.80 L628.55,130.80 L629.12,130.80 L629.68,130.80 L630.25,130.80 L630.82,130.80 L631.39,130.80 L631.95,130.80 L632.52,130.80 L633.09,130.80 L633.65,130.80 L634.22,130.80 L634.79,130.80 L635.36,130.80 L635.92,130.80 L636.49,130.80 L637.06,130.80 L637.62,130.80 L638.19,130.80 L638.76,130.80 L639.32,130.80 L639.89,130.80 L640.46,130.80 L641.03,130.80 L641.59,130.80 L642.16,130.80 L642.73,130.80 L643.29,130.80 L643.86,130.80 L644.43,130.80 L645.00,130.80 L645.56,130.80 L646.13,130.80 L646.70,130.80 L647.26,130.80 L647.83,130.80 L648.40,130.80 L648.97,130.80 L649.53,130.80 L650.10,130.80" fill="none" stroke="#000" stroke-width="1.9" stroke-linejoin="round"/>
<path d="M423.26,187.19 L423.26,174.12 M418.76,187.19 L427.76,187.19 M418.76,174.12 L427.76,174.12" stroke="#008000" stroke-width="1.5" fill="none"/>
<path d="M451.61,174.31 L451.61,143.72 M447.11,174.31 L456.11,174.31 M447.11,143.72 L456.11,143.72" stroke="#008000" stroke-width="1.5" fill="none"/>
<path d="M479.97,158.92 L479.97,113.32 M475.47,158.92 L484.47,158.92 M475.47,113.32 L484.47,113.32" stroke="#008000" stroke-width="1.5" fill="none"/>
<path d="M508.32,156.26 L508.32,105.72 M503.82,156.26 L512.82,156.26 M503.82,105.72 L512.82,105.72" stroke="#008000" stroke-width="1.5" fill="none"/>
<path d="M536.68,156.26 L536.68,105.72 M532.18,156.26 L541.18,156.26 M532.18,105.72 L541.18,105.72" stroke="#008000" stroke-width="1.5" fill="none"/>
<path d="M565.03,156.26 L565.03,105.72 M560.53,156.26 L569.53,156.26 M560.53,105.72 L569.53,105.72" stroke="#008000" stroke-width="1.5" fill="none"/>
<path d="M593.39,156.26 L593.39,105.72 M588.89,156.26 L597.89,156.26 M588.89,105.72 L597.89,105.72" stroke="#008000" stroke-width="1.5" fill="none"/>
<path d="M621.74,156.26 L621.74,105.72 M617.24,156.26 L626.24,156.26 M617.24,105.72 L626.24,105.72" stroke="#008000" stroke-width="1.5" fill="none"/>
<rect x="394.90" y="24.40" width="255.20" height="190.00" fill="none" stroke="#404040" stroke-width="1"/>
<line x1="394.90" y1="214.40" x2="394.90" y2="217.90" stroke="#262626" stroke-width="0.9"/>
<text x="394.90" y="227.10" font-size="9.5" text-anchor="middle" textLength="5.0" lengthAdjust="spacingAndGlyphs" fill="#111">0</text>
<line x1="423.26" y1="214.40" x2="423.26" y2="217.90" stroke="#262626" stroke-width="0.9"/>
<text x="423.26" y="227.10" font-size="9.5" text-anchor="middle" textLength="15.6" lengthAdjust="spacingAndGlyphs" fill="#111">100</text>
<line x1="451.61" y1="214.40" x2="451.61" y2="217.90" stroke="#262626" stroke-width="0.9"/>
<text x="451.61" y="227.10" font-size="9.5" text-anchor="middle" textLength="15.6" lengthAdjust="spacingAndGlyphs" fill="#111">200</text>
<line x1="479.97" y1="214.40" x2="479.97" y2="217.90" stroke="#262626" stroke-width="0.9"/>
<text x="479.97" y="227.10" font-size="9.5" text-anchor="middle" textLength="15.6" lengthAdjust="spacingAndGlyphs" fill="#111">300</text>
<line x1="508.32" y1="214.40" x2="508.32" y2="217.90" stroke="#262626" stroke-width="0.9"/>
<text x="508.32" y="227.10" font-size="9.5" text-anchor="middle" textLength="15.6" lengthAdjust="spacingAndGlyphs" fill="#111">400</text>
<line x1="536.68" y1="214.40" x2="536.68" y2="217.90" stroke="#262626" stroke-width="0.9"/>
<text x="536.68" y="227.10" font-size="9.5" text-anchor="middle" textLength="15.6" lengthAdjust="spacingAndGlyphs" fill="#111">500</text>
<line x1="565.03" y1="214.40" x2="565.03" y2="217.90" stroke="#262626" stroke-width="0.9"/>
<text x="565.03" y="227.10" font-size="9.5" text-anchor="middle" textLength="15.6" lengthAdjust="spacingAndGlyphs" fill="#111">600</text>
<line x1="593.39" y1="214.40" x2="593.39" y2="217.90" stroke="#262626" stroke-width="0.9"/>
<text x="593.39" y="227.10" font-size="9.5" text-anchor="middle" textLength="15.6" lengthAdjust="spacingAndGlyphs" fill="#111">700</text>
<line x1="621.74" y1="214.40" x2="621.74" y2="217.90" stroke="#262626" stroke-width="0.9"/>
<text x="621.74" y="227.10" font-size="9.5" text-anchor="middle" textLength="15.6" lengthAdjust="spacingAndGlyphs" fill="#111">800</text>
<line x1="650.10" y1="214.40" x2="650.10" y2="217.90" stroke="#262626" stroke-width="0.9"/>
<text x="650.10" y="227.10" font-size="9.5" text-anchor="middle" textLength="15.6" lengthAdjust="spacingAndGlyphs" fill="#111">900</text>
<line x1="391.40" y1="195.40" x2="394.90" y2="195.40" stroke="#262626" stroke-width="0.9"/>
<text x="388.30" y="198.80" font-size="9.5" text-anchor="end" textLength="5.0" lengthAdjust="spacingAndGlyphs" fill="#111">0</text>
<line x1="391.40" y1="157.40" x2="394.90" y2="157.40" stroke="#262626" stroke-width="0.9"/>
<text x="388.30" y="160.80" font-size="9.5" text-anchor="end" textLength="15.6" lengthAdjust="spacingAndGlyphs" fill="#111">100</text>
<line x1="391.40" y1="119.40" x2="394.90" y2="119.40" stroke="#262626" stroke-width="0.9"/>
<text x="388.30" y="122.80" font-size="9.5" text-anchor="end" textLength="15.6" lengthAdjust="spacingAndGlyphs" fill="#111">200</text>
<line x1="391.40" y1="81.40" x2="394.90" y2="81.40" stroke="#262626" stroke-width="0.9"/>
<text x="388.30" y="84.80" font-size="9.5" text-anchor="end" textLength="15.6" lengthAdjust="spacingAndGlyphs" fill="#111">300</text>
<line x1="391.40" y1="43.40" x2="394.90" y2="43.40" stroke="#262626" stroke-width="0.9"/>
<text x="388.30" y="46.80" font-size="9.5" text-anchor="end" textLength="15.6" lengthAdjust="spacingAndGlyphs" fill="#111">400</text>
<text x="437.00" y="206.20" font-size="8.8" text-anchor="middle" textLength="45.4" lengthAdjust="spacingAndGlyphs" fill="#111">Acquisition</text>
<text x="521.85" y="206.20" font-size="8.8" text-anchor="middle" textLength="41.3" lengthAdjust="spacingAndGlyphs" fill="#111">Extinction</text>
<text x="607.45" y="206.20" font-size="8.8" text-anchor="middle" textLength="54.3" lengthAdjust="spacingAndGlyphs" fill="#111">Renewal test</text>
<text x="522.05" y="239.30" font-size="9" text-anchor="middle" textLength="22.5" lengthAdjust="spacingAndGlyphs" fill="#111">Trials</text>
<text x="0" y="0" font-size="9" text-anchor="middle" textLength="117.8" lengthAdjust="spacingAndGlyphs" fill="#111" transform="translate(368.30,119.30) rotate(-90)">Cumulative avoidance trials</text>
<rect x="394.18" y="389.57" width="7.35" height="110.63" fill="#ff0000" stroke="#000" stroke-width="0.9"/>
<rect x="401.52" y="383.57" width="7.35" height="116.63" fill="#4c00b3" stroke="#000" stroke-width="0.9"/>
<rect x="408.88" y="392.36" width="7.35" height="107.84" fill="#b3004c" stroke="#000" stroke-width="0.9"/>
<rect x="430.93" y="327.61" width="7.35" height="172.59" fill="#ff0000" stroke="#000" stroke-width="0.9"/>
<rect x="438.27" y="329.54" width="7.35" height="170.66" fill="#b3004c" stroke="#000" stroke-width="0.9"/>
<rect x="445.62" y="334.25" width="7.35" height="165.95" fill="#4c00b3" stroke="#000" stroke-width="0.9"/>
<rect x="504.43" y="377.56" width="7.35" height="122.64" fill="#ff0000" stroke="#000" stroke-width="0.9"/>
<rect x="511.78" y="379.49" width="7.35" height="120.71" fill="#b3004c" stroke="#000" stroke-width="0.9"/>
<rect x="519.12" y="378.21" width="7.35" height="121.99" fill="#4c00b3" stroke="#000" stroke-width="0.9"/>
<rect x="541.18" y="397.93" width="7.35" height="102.27" fill="#ff0000" stroke="#000" stroke-width="0.9"/>
<rect x="548.53" y="400.50" width="7.35" height="99.70" fill="#b3004c" stroke="#000" stroke-width="0.9"/>
<rect x="555.88" y="392.79" width="7.35" height="107.41" fill="#4c00b3" stroke="#000" stroke-width="0.9"/>
<rect x="614.68" y="327.82" width="7.35" height="172.38" fill="#ff0000" stroke="#000" stroke-width="0.9"/>
<rect x="622.03" y="353.76" width="7.35" height="146.44" fill="#b3004c" stroke="#000" stroke-width="0.9"/>
<rect x="629.38" y="376.71" width="7.35" height="123.49" fill="#4c00b3" stroke="#000" stroke-width="0.9"/>
<rect x="651.43" y="388.07" width="7.35" height="112.13" fill="#ff0000" stroke="#000" stroke-width="0.9"/>
<rect x="658.78" y="399.43" width="7.35" height="100.77" fill="#b3004c" stroke="#000" stroke-width="0.9"/>
<rect x="666.12" y="400.29" width="7.35" height="99.91" fill="#4c00b3" stroke="#000" stroke-width="0.9"/>
<rect x="387.4" y="285.8" width="293.40" height="214.40" fill="none" stroke="#404040" stroke-width="1"/>
<line x1="383.9" y1="500.20" x2="387.4" y2="500.20" stroke="#262626" stroke-width="0.9"/>
<text x="380.60" y="503.70" font-size="9.7" text-anchor="end" textLength="5.6" lengthAdjust="spacingAndGlyphs" fill="#111">0</text>
<line x1="383.9" y1="457.32" x2="387.4" y2="457.32" stroke="#262626" stroke-width="0.9"/>
<text x="380.60" y="460.82" font-size="9.7" text-anchor="end" textLength="5.6" lengthAdjust="spacingAndGlyphs" fill="#111">2</text>
<line x1="383.9" y1="414.44" x2="387.4" y2="414.44" stroke="#262626" stroke-width="0.9"/>
<text x="380.60" y="417.94" font-size="9.7" text-anchor="end" textLength="5.6" lengthAdjust="spacingAndGlyphs" fill="#111">4</text>
<line x1="383.9" y1="371.56" x2="387.4" y2="371.56" stroke="#262626" stroke-width="0.9"/>
<text x="380.60" y="375.06" font-size="9.7" text-anchor="end" textLength="5.6" lengthAdjust="spacingAndGlyphs" fill="#111">6</text>
<line x1="383.9" y1="328.68" x2="387.4" y2="328.68" stroke="#262626" stroke-width="0.9"/>
<text x="380.60" y="332.18" font-size="9.7" text-anchor="end" textLength="5.6" lengthAdjust="spacingAndGlyphs" fill="#111">8</text>
<line x1="383.9" y1="285.80" x2="387.4" y2="285.80" stroke="#262626" stroke-width="0.9"/>
<text x="380.60" y="289.30" font-size="9.7" text-anchor="end" textLength="11.2" lengthAdjust="spacingAndGlyphs" fill="#111">10</text>
<line x1="405.20" y1="500.2" x2="405.20" y2="503.7" stroke="#262626" stroke-width="0.9"/>
<text x="405.20" y="514.60" font-size="9.7" text-anchor="middle" textLength="24.0" lengthAdjust="spacingAndGlyphs" fill="#111">early</text>
<text x="405.20" y="525.70" font-size="9.7" text-anchor="middle" textLength="20.0" lengthAdjust="spacingAndGlyphs" fill="#111">acq.</text>
<line x1="441.95" y1="500.2" x2="441.95" y2="503.7" stroke="#262626" stroke-width="0.9"/>
<text x="441.95" y="514.60" font-size="9.7" text-anchor="middle" textLength="18.3" lengthAdjust="spacingAndGlyphs" fill="#111">late</text>
<text x="441.95" y="525.70" font-size="9.7" text-anchor="middle" textLength="20.0" lengthAdjust="spacingAndGlyphs" fill="#111">acq.</text>
<line x1="515.45" y1="500.2" x2="515.45" y2="503.7" stroke="#262626" stroke-width="0.9"/>
<text x="515.45" y="514.60" font-size="9.7" text-anchor="middle" textLength="24.0" lengthAdjust="spacingAndGlyphs" fill="#111">early</text>
<text x="515.45" y="525.70" font-size="9.7" text-anchor="middle" textLength="18.3" lengthAdjust="spacingAndGlyphs" fill="#111">ext.</text>
<line x1="552.20" y1="500.2" x2="552.20" y2="503.7" stroke="#262626" stroke-width="0.9"/>
<text x="552.20" y="514.60" font-size="9.7" text-anchor="middle" textLength="18.3" lengthAdjust="spacingAndGlyphs" fill="#111">late</text>
<text x="552.20" y="525.70" font-size="9.7" text-anchor="middle" textLength="18.3" lengthAdjust="spacingAndGlyphs" fill="#111">ext.</text>
<line x1="625.70" y1="500.2" x2="625.70" y2="503.7" stroke="#262626" stroke-width="0.9"/>
<text x="625.70" y="514.60" font-size="9.7" text-anchor="middle" textLength="24.0" lengthAdjust="spacingAndGlyphs" fill="#111">early</text>
<text x="625.70" y="525.70" font-size="9.7" text-anchor="middle" textLength="18.5" lengthAdjust="spacingAndGlyphs" fill="#111">test</text>
<line x1="662.45" y1="500.2" x2="662.45" y2="503.7" stroke="#262626" stroke-width="0.9"/>
<text x="662.45" y="514.60" font-size="9.7" text-anchor="middle" textLength="18.3" lengthAdjust="spacingAndGlyphs" fill="#111">late</text>
<text x="662.45" y="525.70" font-size="9.7" text-anchor="middle" textLength="18.5" lengthAdjust="spacingAndGlyphs" fill="#111">test</text>
<text x="0" y="0" font-size="9" text-anchor="middle" textLength="114" lengthAdjust="spacingAndGlyphs" fill="#111" transform="translate(362.40,393.60) rotate(-90)"># of target arm choices</text>
<rect x="504.9" y="290.5" width="58.4" height="46.5" rx="2" fill="#fff" fill-opacity="0.8" stroke="#d6d6d6" stroke-width="0.9"/>
<rect x="508.3" y="295.40" width="19.9" height="6.6" fill="#ff0000" stroke="#000" stroke-width="0.9"/>
<rect x="508.3" y="309.90" width="19.9" height="6.6" fill="#b3004c" stroke="#000" stroke-width="0.9"/>
<rect x="508.3" y="324.40" width="19.9" height="6.6" fill="#4c00b3" stroke="#000" stroke-width="0.9"/>
<text x="535.90" y="302.00" font-size="9.7" text-anchor="start" textLength="19.6" lengthAdjust="spacingAndGlyphs" fill="#111">ABA</text>
<text x="535.9" y="316.6" font-size="9.7" fill="#111">AB<tspan font-style="italic">C</tspan><tspan font-size="6.8" dy="2">2</tspan></text>
<text x="535.9" y="331.2" font-size="9.7" fill="#111">AB<tspan font-style="italic">C</tspan><tspan font-size="6.8" dy="2">1</tspan></text>
<text x="2.4" y="13.6" font-size="17" style="stroke:none" font-family="'Liberation Serif', serif" font-weight="bold"><tspan font-weight="normal">(</tspan>a<tspan font-weight="normal">)</tspan></text>
<text x="346.9" y="13.6" font-size="17" style="stroke:none" font-family="'Liberation Serif', serif" font-weight="bold"><tspan font-weight="normal">(</tspan>b<tspan font-weight="normal">)</tspan></text>
<text x="2.4" y="274.6" font-size="17" style="stroke:none" font-family="'Liberation Serif', serif" font-weight="bold"><tspan font-weight="normal">(</tspan>c<tspan font-weight="normal">)</tspan></text>
<text x="346.9" y="274.6" font-size="17" style="stroke:none" font-family="'Liberation Serif', serif" font-weight="bold"><tspan font-weight="normal">(</tspan>d<tspan font-weight="normal">)</tspan></text>
</svg></body></html>
